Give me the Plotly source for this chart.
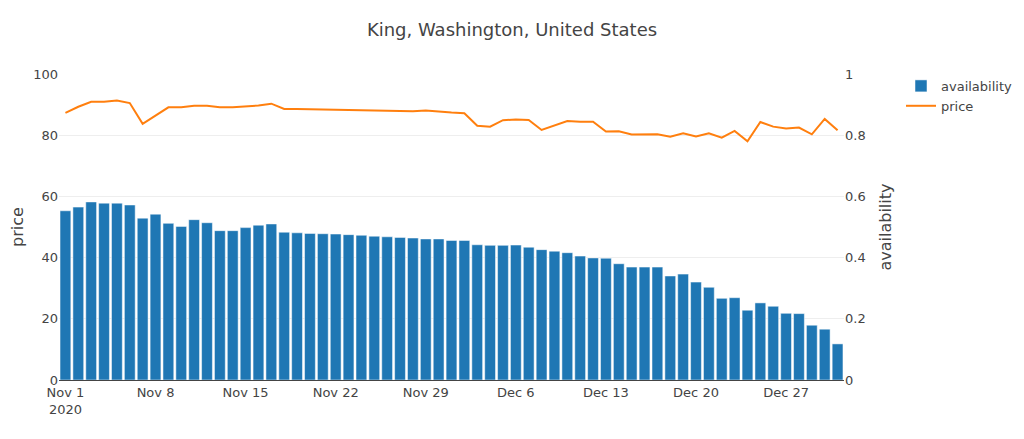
import plotly.graph_objects as go
import pandas as pd

dates = pd.date_range("2020-11-01", "2020-12-31", freq="D")

availability = [
    0.553, 0.565, 0.582, 0.578, 0.578, 0.572, 0.529, 0.542, 0.512, 0.502,
    0.524, 0.514, 0.488, 0.488, 0.498, 0.506, 0.510, 0.483, 0.481, 0.479,
    0.478, 0.477, 0.475, 0.473, 0.470, 0.468, 0.466, 0.464, 0.461, 0.461,
    0.456, 0.456, 0.442, 0.440, 0.440, 0.441, 0.434, 0.426, 0.421, 0.416,
    0.405, 0.399, 0.398, 0.380, 0.369, 0.369, 0.369, 0.340, 0.346, 0.320,
    0.303, 0.267, 0.269, 0.228, 0.252, 0.241, 0.218, 0.217, 0.179, 0.166,
    0.118,
]

price = [
    87.3, 89.3, 90.9, 90.9, 91.3, 90.5, 83.7, 86.4, 89.1, 89.1,
    89.6, 89.6, 89.1, 89.1, 89.3, 89.7, 90.3, 88.6, 88.6, 88.5,
    88.4, 88.3, 88.2, 88.1, 88.0, 87.9, 87.8, 87.8, 88.1, 87.7,
    87.4, 87.2, 83.1, 82.8, 84.9, 85.1, 85.0, 81.7, 83.1, 84.6,
    84.4, 84.4, 81.2, 81.3, 80.2, 80.3, 80.3, 79.5, 80.6, 79.6,
    80.6, 79.2, 81.4, 78.0, 84.3, 82.8, 82.2, 82.5, 80.3, 85.3,
    81.6,
]

font_family = "DejaVu Sans, Verdana, sans-serif"

W, H = 1008, 423
L, R, T, B = 51, 172, 66, 51

fig = go.Figure()
fig.add_trace(go.Bar(x=dates, y=availability, name="availability",
                     marker=dict(color="#1f77b4", line=dict(color="white", width=0.5)),
                     yaxis="y2"))
fig.add_trace(go.Scatter(x=dates, y=price, name="price", mode="lines",
                         line=dict(color="#ff7f0e", width=2), yaxis="y"))

fig.update_layout(
    width=W, height=H,
    template="plotly_white",
    font=dict(family=font_family, size=13, color="#444"),
    title=dict(text="King, Washington, United States", x=0.5, xanchor="center",
               y=1 - 22 / H, yref="container", yanchor="middle",
               font=dict(size=18)),
    margin=dict(l=L, r=R, t=T, b=B, autoexpand=False),
    xaxis=dict(showgrid=False, showline=True, linecolor="#444", linewidth=1,
               tickformat="%b %-d\n%Y", dtick=7 * 24 * 3600 * 1000,
               tick0="2020-11-01", automargin=False),
    yaxis=dict(title=dict(text="price", font=dict(size=16)), range=[0, 100],
               gridcolor="#eee", zeroline=False, showline=False, automargin=False),
    yaxis2=dict(title=dict(text="availability", font=dict(size=16)), range=[0, 1],
                overlaying="y", side="right", showgrid=False, zeroline=False,
                automargin=False),
    legend=dict(traceorder="normal", font=dict(size=13),
                x=(893 - L) / (W - L - R), y=1.01, xanchor="left", yanchor="top"),
    bargap=0.16,
)
fig.write_html("out.html")
